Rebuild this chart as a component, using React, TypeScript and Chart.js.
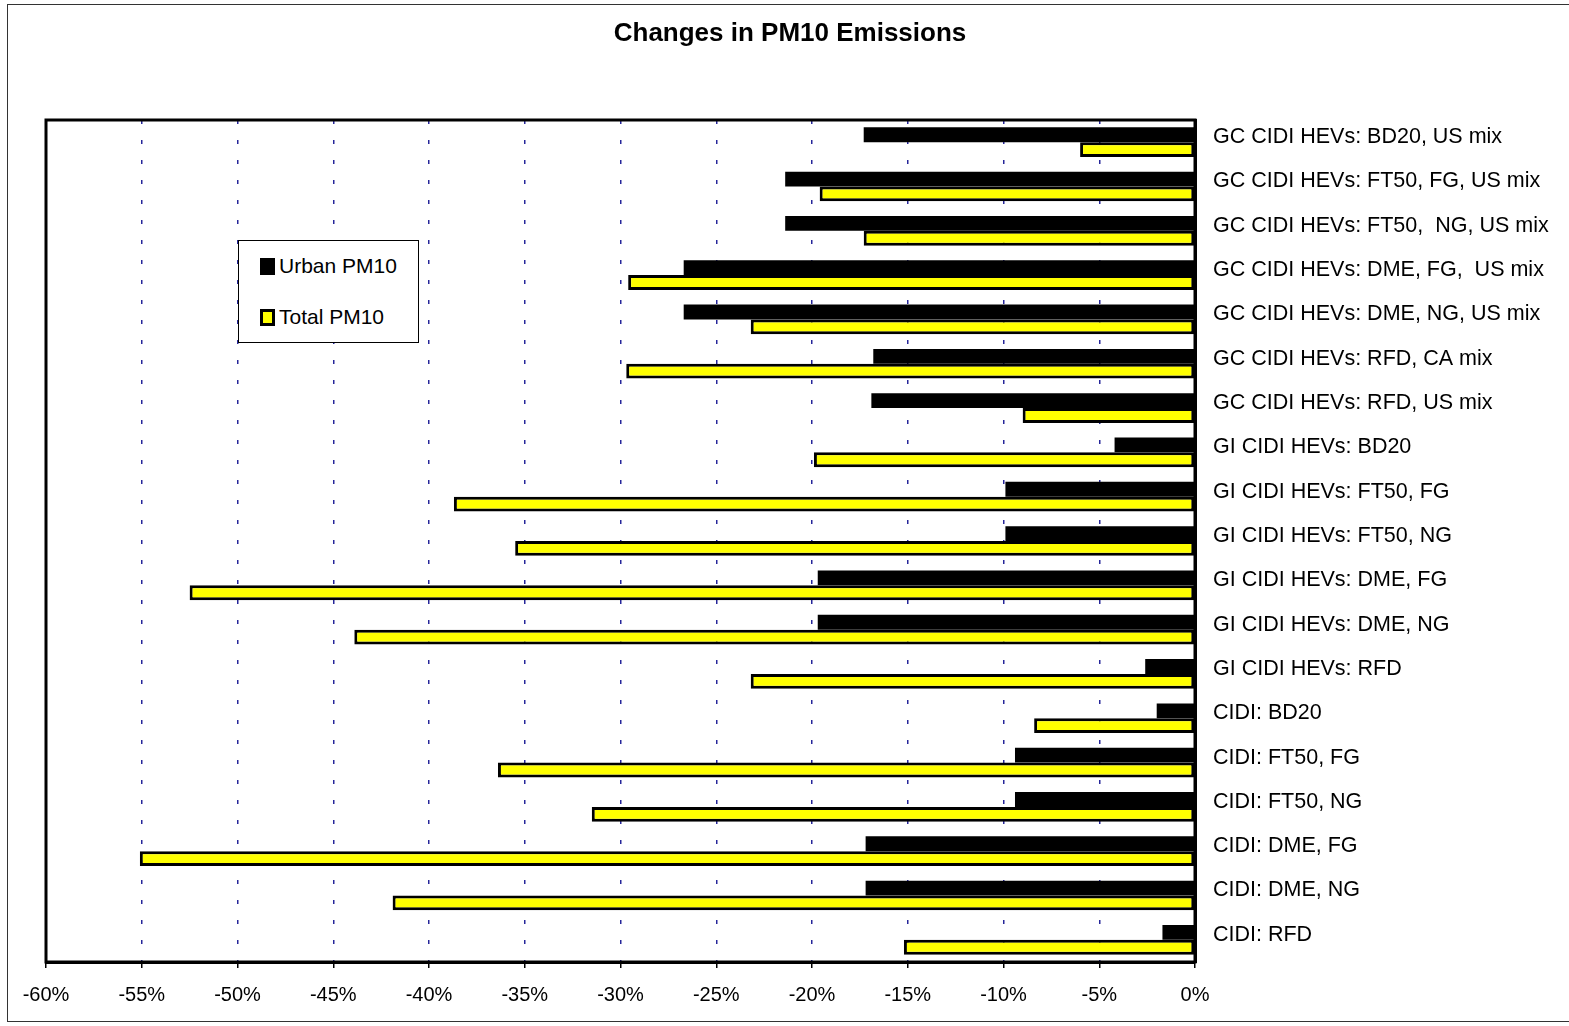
import React, { useEffect, useRef } from "react";
import { Chart, registerables } from "chart.js";

Chart.register(...registerables);

const categories = [
  "GC CIDI HEVs: BD20, US mix",
  "GC CIDI HEVs: FT50, FG, US mix",
  "GC CIDI HEVs: FT50,  NG, US mix",
  "GC CIDI HEVs: DME, FG,  US mix",
  "GC CIDI HEVs: DME, NG, US mix",
  "GC CIDI HEVs: RFD, CA mix",
  "GC CIDI HEVs: RFD, US mix",
  "GI CIDI HEVs: BD20",
  "GI CIDI HEVs: FT50, FG",
  "GI CIDI HEVs: FT50, NG",
  "GI CIDI HEVs: DME, FG",
  "GI CIDI HEVs: DME, NG",
  "GI CIDI HEVs: RFD",
  "CIDI: BD20",
  "CIDI: FT50, FG",
  "CIDI: FT50, NG",
  "CIDI: DME, FG",
  "CIDI: DME, NG",
  "CIDI: RFD",
];

const urbanPM10 = [
  -17.3, -21.4, -21.4, -26.7, -26.7, -16.8, -16.9, -4.2, -9.9, -9.9,
  -19.7, -19.7, -2.6, -2.0, -9.4, -9.4, -17.2, -17.2, -1.7,
];

const totalPM10 = [
  -6.0, -19.6, -17.3, -29.6, -23.2, -29.7, -9.0, -19.9, -38.7, -35.5,
  -52.5, -43.9, -23.2, -8.4, -36.4, -31.5, -55.1, -41.9, -15.2,
];

const seriesNames = ["Urban PM10", "Total PM10"];
const titleText = "Changes in PM10 Emissions";

const W = 1569;
const H = 1026;
const PLOT_LEFT = 46;
const PLOT_RIGHT = 1195;
const PLOT_TOP = 120;
const PLOT_BOTTOM = 962;
const FONT = "'Liberation Sans', Arial, Helvetica, sans-serif";

const framePlugin = {
  id: "frame",
  afterDatasetsDraw(chart: any) {
    const { ctx, chartArea } = chart;
    ctx.save();
    ctx.setLineDash([]);
    ctx.strokeStyle = "#000";
    ctx.lineWidth = 3;
    ctx.strokeRect(
      chartArea.left,
      chartArea.top,
      chartArea.right - chartArea.left,
      chartArea.bottom - chartArea.top
    );
    ctx.restore();
  },
};

export default function App() {
  const ref = useRef<HTMLCanvasElement | null>(null);

  useEffect(() => {
    document.body.style.margin = "0";
    const canvas = ref.current;
    if (!canvas) return;
    const chart = new Chart(canvas, {
      type: "bar",
      data: {
        labels: categories,
        datasets: [
          {
            label: seriesNames[0],
            data: urbanPM10,
            backgroundColor: "#000000",
            borderColor: "#000000",
            borderWidth: 0,
            borderSkipped: false,
          },
          {
            label: seriesNames[1],
            data: totalPM10,
            backgroundColor: "#ffff00",
            borderColor: "#000000",
            borderWidth: 3,
            borderSkipped: false,
          },
        ],
      },
      options: {
        indexAxis: "y",
        responsive: false,
        animation: false,
        devicePixelRatio: 1,
        layout: {
          padding: { left: PLOT_LEFT, top: PLOT_TOP, right: 0, bottom: 0 },
        },
        datasets: {
          bar: {
            categoryPercentage: 0.67,
            barPercentage: 1.0,
          },
        },
        plugins: {
          legend: { display: false },
          title: { display: false },
          tooltip: { enabled: false },
        },
        scales: {
          x: {
            type: "linear",
            min: -60,
            max: 0,
            position: "bottom",
            afterFit: (scale: any) => {
              scale.height = H - PLOT_BOTTOM;
            },
            ticks: {
              stepSize: 5,
              color: "#000",
              padding: 15,
              font: { family: FONT, size: 20 },
              callback: (v: any) => `${v}%`,
            },
            grid: {
              display: true,
              drawOnChartArea: true,
              color: (ctx: any) =>
                ctx.tick && (ctx.tick.value === -60 || ctx.tick.value === 0)
                  ? "rgba(0,0,0,0)"
                  : "#26269a",
              lineWidth: 1.5,
              tickColor: "#000",
              tickLength: 6,
              tickWidth: 1.5,
              tickBorderDash: [],
            },
            border: { display: true, color: "#000", width: 3, dash: [4, 16] },
          },
          y: {
            type: "category",
            position: "right",
            afterFit: (scale: any) => {
              scale.width = W - PLOT_RIGHT;
            },
            ticks: {
              color: "#000",
              padding: 10,
              labelOffset: -5,
              font: { family: FONT, size: 21.5 },
              autoSkip: false,
            },
            grid: { display: false },
            border: { display: true, color: "#000", width: 3 },
          },
        },
      },
      plugins: [framePlugin],
    });
    return () => chart.destroy();
  }, []);

  return (
    <div style={{ position: "relative", width: W, height: H, background: "#fff", overflow: "hidden" }}>
      <div
        style={{
          position: "absolute",
          left: 7,
          top: 4,
          width: W - 7,
          height: 1018,
          borderLeft: "1.5px solid #333",
          borderTop: "1.5px solid #333",
          borderBottom: "1.5px solid #333",
          boxSizing: "border-box",
        }}
      />
      <canvas ref={ref} width={W} height={H} style={{ position: "absolute", left: 0, top: 0, width: W, height: H }} />
      <div
        style={{
          position: "absolute",
          left: 0,
          top: 15,
          width: 1580,
          textAlign: "center",
          fontFamily: FONT,
          fontWeight: "bold",
          fontSize: 26,
          color: "#000",
          lineHeight: "34px",
        }}
      >
        {titleText}
      </div>
      <div
        style={{
          position: "absolute",
          left: 238,
          top: 240,
          width: 181,
          height: 103,
          border: "1.5px solid #000",
          background: "#fff",
          boxSizing: "border-box",
          fontFamily: FONT,
          fontSize: 21,
          color: "#000",
        }}
      >
        <div style={{ position: "absolute", left: 21, top: 13, display: "flex", alignItems: "center", lineHeight: "24px" }}>
          <span style={{ display: "inline-block", width: 15, height: 17, background: "#000", marginRight: 4 }} />
          <span>{seriesNames[0]}</span>
        </div>
        <div style={{ position: "absolute", left: 21, top: 64, display: "flex", alignItems: "center", lineHeight: "24px" }}>
          <span
            style={{
              display: "inline-block",
              width: 15,
              height: 17,
              background: "#ffff00",
              border: "3px solid #000",
              boxSizing: "border-box",
              marginRight: 4,
            }}
          />
          <span>{seriesNames[1]}</span>
        </div>
      </div>
    </div>
  );
}
